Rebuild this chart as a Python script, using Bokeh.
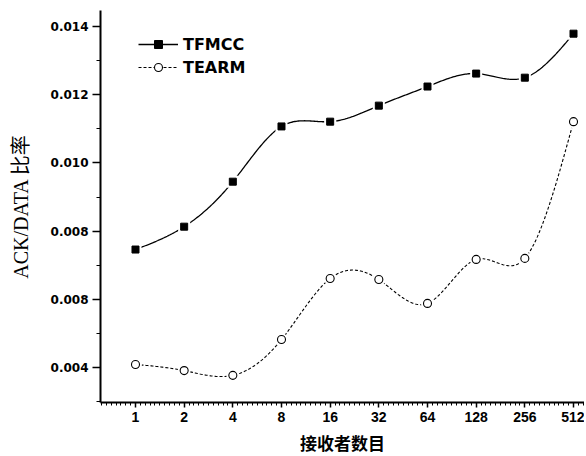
import numpy as np
from bokeh.plotting import figure
from bokeh.models import Range1d, FixedTicker, Legend, LegendItem, ColumnDataSource
from bokeh.embed import file_html
from bokeh.resources import INLINE

# ---- data ----
receivers = ["1", "2", "4", "8", "16", "32", "64", "128", "256", "512"]
tfmcc = [0.00746, 0.00813, 0.00945, 0.01107, 0.01121, 0.01168, 0.01224, 0.01262, 0.01250, 0.01379]
tearm = [0.00409, 0.00391, 0.00377, 0.00482, 0.00661, 0.00658, 0.00588, 0.00717, 0.00720, 0.01121]
y_tick_values = [0.004, 0.006, 0.008, 0.010, 0.012, 0.014]
y_tick_labels = ["0.004", "0.008", "0.008", "0.010", "0.012", "0.014"]
series_names = ["TFMCC", "TEARM"]
x_title = "接收者数目"
y_title = "ACK/DATA 比率"

idx = list(range(1, len(receivers) + 1))


def natural_spline(x, y, per=40):
    """Smooth drawing path through the data points (natural cubic spline)."""
    x = np.asarray(x, float)
    y = np.asarray(y, float)
    n = len(x)
    h = np.diff(x)
    A = np.zeros((n, n))
    r = np.zeros(n)
    A[0, 0] = 1.0
    A[-1, -1] = 1.0
    for i in range(1, n - 1):
        A[i, i - 1] = h[i - 1]
        A[i, i] = 2 * (h[i - 1] + h[i])
        A[i, i + 1] = h[i]
        r[i] = 6 * ((y[i + 1] - y[i]) / h[i] - (y[i] - y[i - 1]) / h[i - 1])
    M = np.linalg.solve(A, r)
    xs, ys = [], []
    for i in range(n - 1):
        t = np.linspace(x[i], x[i + 1], per, endpoint=(i == n - 2))
        a = (x[i + 1] - t) / h[i]
        b = (t - x[i]) / h[i]
        s = a * y[i] + b * y[i + 1] + ((a ** 3 - a) * M[i] + (b ** 3 - b) * M[i + 1]) * h[i] ** 2 / 6
        xs.extend(t.tolist())
        ys.extend(s.tolist())
    return xs, ys


p = figure(
    frame_width=484, frame_height=392,
    min_border_left=100, min_border_top=10, min_border_right=0, min_border_bottom=0,
    x_range=Range1d(0.281, 10.226), y_range=Range1d(0.002974, 0.01447),
    output_backend="svg", toolbar_location=None,
    background_fill_color="white", border_fill_color="white",
)
p.outline_line_color = None
p.grid.visible = False

pts = ColumnDataSource(dict(x=idx, tfmcc=tfmcc, tearm=tearm))

# TFMCC
sx1, sy1 = natural_spline(idx, tfmcc)
l1 = p.line(sx1, sy1, line_color="black", line_width=1.3)
h1 = p.scatter("x", "tfmcc", source=pts, marker="square", size=12,
               fill_color="white", line_color=None)
m1 = p.scatter("x", "tfmcc", source=pts, marker="square", size=7,
               fill_color="black", line_color="black")

# TEARM
sx2, sy2 = natural_spline(idx, tearm)
l2 = p.line(sx2, sy2, line_color="black", line_width=1.1, line_dash="3 2")
h2 = p.scatter("x", "tearm", source=pts, marker="circle", size=13,
               fill_color="white", line_color=None)
m2 = p.scatter("x", "tearm", source=pts, marker="circle", size=8,
               fill_color="white", line_color="black", line_width=1.1)

legend = Legend(
    items=[LegendItem(label=series_names[0], renderers=[l1, h1, m1]),
           LegendItem(label=series_names[1], renderers=[l2, h2, m2])],
    location=(38, 325), orientation="vertical",
    padding=0, margin=0, spacing=3,
    glyph_width=40, glyph_height=20, label_height=20, label_standoff=5,
    border_line_color=None, background_fill_alpha=0,
    label_text_font="DejaVu Sans", label_text_font_style="bold",
    label_text_font_size="16px", label_text_color="black",
)
p.add_layout(legend)

# x axis
x_minor = [round(v, 2) for v in np.arange(0.3, 10.21, 0.1) if abs(v - round(v)) > 1e-6]
p.xaxis.ticker = FixedTicker(ticks=idx, minor_ticks=x_minor)
p.xaxis.major_label_overrides = {i: lab for i, lab in zip(idx, receivers)}
p.xaxis.axis_line_width = 2
p.xaxis.axis_line_color = "black"
p.xaxis.major_tick_line_width = 1.5
p.xaxis.minor_tick_line_width = 1
p.xaxis.major_tick_out = 5
p.xaxis.major_tick_in = 0
p.xaxis.minor_tick_out = 3
p.xaxis.minor_tick_in = 0
p.xaxis.major_label_standoff = 4
p.xaxis.major_label_text_font = "Liberation Sans Narrow, Liberation Sans"
p.xaxis.major_label_text_font_style = "bold"
p.xaxis.major_label_text_font_size = "14px"
p.xaxis.major_label_text_color = "black"
p.xaxis.axis_label = x_title
p.xaxis.axis_label_text_font = "Noto Sans CJK SC"
p.xaxis.axis_label_text_font_style = "bold"
p.xaxis.axis_label_text_font_size = "17px"
p.xaxis.axis_label_text_color = "black"
p.xaxis.axis_label_standoff = 5

# y axis
y_minor = [0.003, 0.005, 0.007, 0.009, 0.011, 0.013]
p.yaxis.ticker = FixedTicker(ticks=y_tick_values, minor_ticks=y_minor)
p.yaxis.major_label_overrides = {v: lab for v, lab in zip(y_tick_values, y_tick_labels)}
p.yaxis.axis_line_width = 2
p.yaxis.axis_line_color = "black"
p.yaxis.major_tick_line_width = 1.5
p.yaxis.minor_tick_line_width = 1
p.yaxis.major_tick_out = 8
p.yaxis.major_tick_in = 0
p.yaxis.minor_tick_out = 4
p.yaxis.minor_tick_in = 0
p.yaxis.major_label_standoff = 4
p.yaxis.major_label_text_font = "DejaVu Sans"
p.yaxis.major_label_text_font_style = "bold"
p.yaxis.major_label_text_font_size = "12px"
p.yaxis.major_label_text_color = "black"
p.yaxis.axis_label = y_title
p.yaxis.axis_label_text_font = "Liberation Serif, Noto Sans CJK SC"
p.yaxis.axis_label_text_font_style = "normal"
p.yaxis.axis_label_text_font_size = "20px"
p.yaxis.axis_label_text_color = "black"
p.yaxis.axis_label_standoff = 16

open("out.html", "w").write(file_html(p, INLINE))
